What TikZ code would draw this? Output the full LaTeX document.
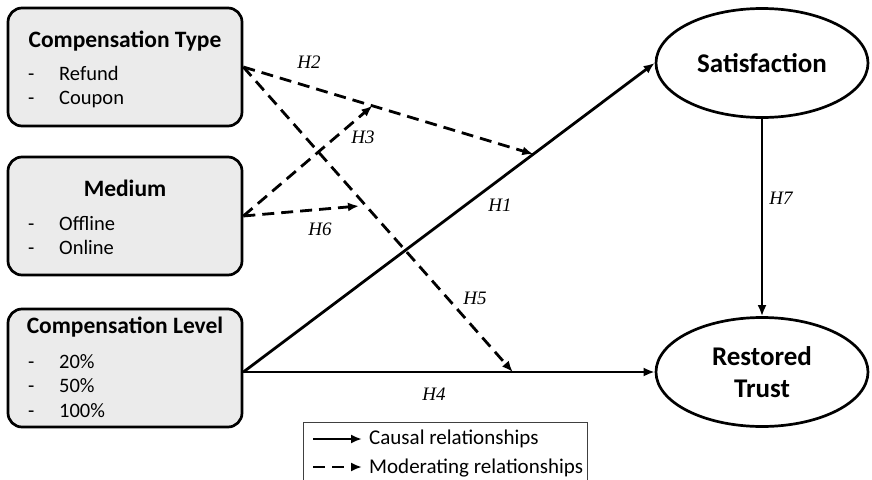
\documentclass[tikz,border=0pt]{standalone}
\usepackage{fontspec}
\setmainfont{Carlito}
\newfontfamily\hypfont{Liberation Serif}
\usetikzlibrary{arrows.meta,calc,positioning,shapes.geometric}
\definecolor{boxgray}{RGB}{235,235,235}
\tikzset{
    box/.style =        {rectangle,
                        rounded corners=14pt,
                        fill=boxgray,
                        draw=black,
                        line width=2.7pt,
                        minimum width=234pt,
                        minimum height=118pt},
    construct/.style =  {ellipse,
                        draw=black,
                        line width=2.7pt,
                        minimum width=212pt,
                        minimum height=109pt,
                        align=center,
                        font=\fontsize{27}{32}\selectfont\bfseries},
    title/.style =      {anchor=base,
                        inner sep=0pt,
                        font=\fontsize{23.5}{26}\selectfont\bfseries},
    item/.style =       {anchor=base west,
                        inner sep=0pt,
                        font=\fontsize{20.5}{23}\selectfont},
    hyp/.style =        {inner sep=0pt,
                        font=\fontsize{19}{20}\selectfont\hypfont\itshape},
    legendtext/.style = {anchor=base west,
                        inner sep=0pt,
                        font=\fontsize{21}{24}\selectfont},
    causal/.style =     {draw,
                        line width=2.8pt,
                        -{Latex[length=11pt,width=9pt]}},
    moderating/.style = {causal,
                        dash pattern=on 12pt off 7pt}
}
\newcommand{\dashitem}[1]{\makebox[31pt][l]{-}#1}

\begin{document}
\begin{tikzpicture}[x=1pt,y=-1pt]
    \useasboundingbox (0,0) rectangle (872,479);
    \clip (0,0) rectangle (872,479);

    % independent variables
    \node[box]          (ct) at (125,67)        {};
    \node[box]          (md) at (125,216)       {};
    \node[box]          (cl) at (125,368)       {};

    \node[title]        (cttitle) at (125,47)   {Compensation Type};
    \node[item]         (ct1) at (28,80)        {\dashitem{Refund}};
    \node[item]         (ct2) at (28,104)       {\dashitem{Coupon}};

    \node[title]        (mdtitle) at (125,196)  {Medium};
    \node[item]         (md1) at (28,230)       {\dashitem{Offline}};
    \node[item]         (md2) at (28,254)       {\dashitem{Online}};

    \node[title]        (cltitle) at (125,333)  {Compensation Level};
    \node[item]         (cl1) at (28,368)       {\dashitem{20\%}};
    \node[item]         (cl2) at (28,392)       {\dashitem{50\%}};
    \node[item]         (cl3) at (28,417)       {\dashitem{100\%}};

    % dependent variables
    \node[construct]    (sat) at (762,63)       {Satisfaction};
    \node[construct]    (rt) at (762,372)       {Restored\\Trust};

    % points where the moderating arrows meet
    \coordinate         (clout) at (cl.east |- rt.west);
    \coordinate         (h1mid) at ($(clout)!0.705!(sat.west)$);
    \coordinate         (h4mid) at ($(clout)!0.655!(rt.west)$);
    \coordinate         (h2mid) at ($(ct.east)!0.445!(h1mid)$);
    \coordinate         (h5mid) at (359,206);

    % causal paths
    \path [causal]      (clout) -- (sat.west);
    \path [causal]      (clout) -- (rt.west);
    \path [causal]      (sat.south) -- (rt.north);

    % moderating paths
    \path [moderating]  (ct.east) -- (h1mid);
    \path [moderating]  (ct.east) -- (h4mid);
    \path [moderating]  (md.east) -- (h2mid);
    \path [moderating]  (md.east) -- (h5mid);

    % hypotheses
    \node[hyp]          (H1) at (500,205)       {H1};
    \node[hyp]          (H2) at (309,62)        {H2};
    \node[hyp]          (H3) at (363,137)       {H3};
    \node[hyp]          (H4) at (434,394)       {H4};
    \node[hyp]          (H5) at (475,298)       {H5};
    \node[hyp]          (H6) at (320,229)       {H6};
    \node[hyp]          (H7) at (781,198)       {H7};

    % legend
    \draw [line width=1pt, draw=black!75] (303,422) rectangle (587,495);
    \coordinate         (lc1) at (313,439);
    \coordinate         (lc2) at (362,439);
    \coordinate         (lm1) at (313,467);
    \coordinate         (lm2) at (362,467);
    \path [causal]      (lc1) -- (lc2);
    \path [moderating]  (lm1) -- (lm2);
    \node[legendtext]   (lctext) at (369,444)   {Causal relationships};
    \node[legendtext]   (lmtext) at (369,473)   {Moderating relationships};
\end{tikzpicture}
\end{document}
